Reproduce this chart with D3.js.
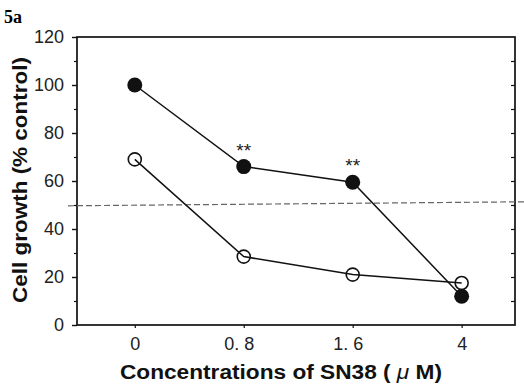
<!DOCTYPE html>
<html>
<head>
<meta charset="utf-8">
<script src="https://cdn.jsdelivr.net/npm/d3@7"></script>
<style>
  body { margin: 0; background: #fff; }
  svg { display: block; }
</style>
</head>
<body>
<div id="chart"></div>
<script>
const concentrations = ['0', '0. 8', '1. 6', '4'];
const filledSeries = [100, 66, 59.5, 12];
const openSeries = [69, 28.5, 21, 17.5];
const yTicks = [0, 20, 40, 60, 80, 100, 120];
const marked = ['0. 8', '1. 6'];
const halfLine = 50.5;

const width = 524, height = 385;
const plotLeft = 77, plotRight = 515, plotTop = 37, plotBottom = 325;
const tickFont = 'Liberation Sans Narrow, Arial Narrow, Liberation Sans, sans-serif';

const svg = d3.select('#chart')
              .append('svg')
              .attr('width', width)
              .attr('height', height);

const xScale = d3.scalePoint()
                 .domain(concentrations)
                 .range([plotLeft, plotRight])
                 .padding(0.51)
                 .align(0.52);

const yScale = d3.scaleLinear()
                 .domain([0, 120])
                 .range([plotBottom, plotTop]);

// frame
svg.append('rect')
   .attr('x', plotLeft).attr('y', plotTop)
   .attr('width', plotRight - plotLeft).attr('height', plotBottom - plotTop)
   .attr('fill', 'none').attr('stroke', '#111').attr('stroke-width', 1.7);

// left axis, labelled every 20, small ticks every 10
const yAxis = d3.axisLeft(yScale).tickValues(yTicks).tickSize(5).tickPadding(8);
svg.append('g')
   .attr('transform', `translate(${plotLeft},0)`)
   .call(yAxis)
   .call(g => g.select('.domain').remove())
   .call(g => g.selectAll('line').attr('stroke', '#111').attr('stroke-width', 1.4))
   .call(g => g.selectAll('text')
     .attr('font-family', tickFont)
     .attr('font-size', 18).attr('fill', '#222'));

const minor = d3.range(10, 120, 20);
svg.append('g')
   .attr('transform', `translate(${plotLeft},0)`)
   .call(d3.axisLeft(yScale).tickValues(minor).tickSize(3).tickFormat(''))
   .call(g => g.select('.domain').remove())
   .call(g => g.selectAll('line').attr('stroke', '#111').attr('stroke-width', 1.2));

// right axis, inward ticks every 10
svg.append('g')
   .attr('transform', `translate(${plotRight},0)`)
   .call(d3.axisLeft(yScale).tickValues(d3.range(10, 120, 10)).tickSize(4).tickFormat(''))
   .call(g => g.select('.domain').remove())
   .call(g => g.selectAll('line').attr('stroke', '#111').attr('stroke-width', 1.2));

// bottom axis
const xAxis = d3.axisBottom(xScale).tickSize(3).tickPadding(9);
svg.append('g')
   .attr('transform', `translate(0,${plotBottom})`)
   .call(xAxis)
   .call(g => g.select('.domain').remove())
   .call(g => g.selectAll('line').attr('stroke', '#111').attr('stroke-width', 1.2))
   .call(g => g.selectAll('text')
     .attr('font-family', tickFont)
     .attr('font-size', 18).attr('fill', '#222')
     .attr('dx', d => d.includes('.') ? -5 : 0));

// 50% dashed line
svg.append('line')
   .attr('x1', 68).attr('x2', width)
   .attr('y1', yScale(halfLine) + 2).attr('y2', yScale(halfLine) - 2)
   .attr('stroke', '#666').attr('stroke-width', 1.2)
   .attr('stroke-dasharray', '6,3');

const line = d3.line()
               .x((d, i) => xScale(concentrations[i]))
               .y(d => yScale(d));

svg.append('path')
   .datum(openSeries)
   .attr('d', line)
   .attr('fill', 'none').attr('stroke', '#111').attr('stroke-width', 1.5);

svg.append('path')
   .datum(filledSeries)
   .attr('d', line)
   .attr('fill', 'none').attr('stroke', '#111').attr('stroke-width', 1.5);

svg.selectAll('circle.open')
   .data(openSeries)
   .enter()
   .append('circle')
   .attr('class', 'open')
   .attr('cx', (d, i) => xScale(concentrations[i]))
   .attr('cy', d => yScale(d))
   .attr('r', 6.5)
   .attr('fill', 'none').attr('stroke', '#111').attr('stroke-width', 1.6);

svg.selectAll('circle.filled')
   .data(filledSeries)
   .enter()
   .append('circle')
   .attr('class', 'filled')
   .attr('cx', (d, i) => xScale(concentrations[i]))
   .attr('cy', d => yScale(d))
   .attr('r', 7.5)
   .attr('fill', '#111');

// significance marks
svg.selectAll('text.sig')
   .data(marked)
   .enter()
   .append('text')
   .attr('class', 'sig')
   .attr('x', d => xScale(d))
   .attr('y', d => yScale(filledSeries[concentrations.indexOf(d)]) - 10)
   .attr('text-anchor', 'middle')
   .attr('font-family', 'Liberation Sans, sans-serif')
   .attr('font-size', 19).attr('fill', '#222')
   .text('**');

// labels
svg.append('text')
   .attr('x', 4).attr('y', 23)
   .attr('font-family', 'Liberation Serif, serif')
   .attr('font-size', 18).attr('font-weight', 'bold')
   .text('5a');

const xTitle = svg.append('text')
   .attr('x', 281).attr('y', 379)
   .attr('text-anchor', 'middle')
   .attr('font-family', 'Liberation Sans, sans-serif')
   .attr('font-size', 20).attr('font-weight', 'bold').attr('fill', '#111')
   .attr('textLength', 322).attr('lengthAdjust', 'spacingAndGlyphs');
xTitle.append('tspan').text('Concentrations of SN38 ( ');
xTitle.append('tspan').attr('font-style', 'italic').attr('font-weight', 'normal').text('\u03bc');
xTitle.append('tspan').text(' M)');

svg.append('text')
   .attr('transform', `translate(27, 180) rotate(-90)`)
   .attr('text-anchor', 'middle')
   .attr('font-family', 'Liberation Sans, sans-serif')
   .attr('font-size', 20).attr('font-weight', 'bold').attr('fill', '#111')
   .attr('textLength', 246).attr('lengthAdjust', 'spacingAndGlyphs')
   .text('Cell growth (% control)');
</script>
</body>
</html>
